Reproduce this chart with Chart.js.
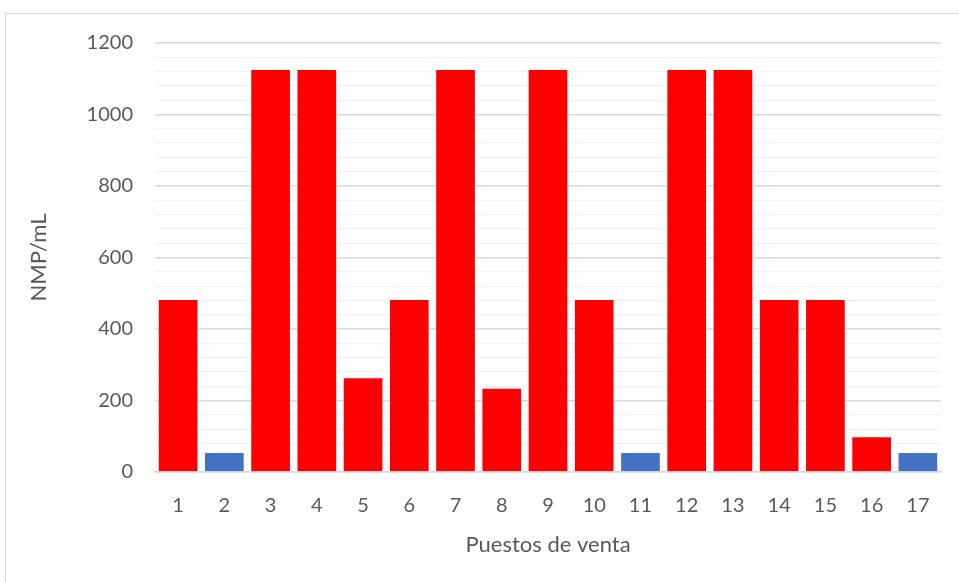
<!DOCTYPE html>
<html>
<head>
<meta charset="utf-8">
<script src="https://cdn.jsdelivr.net/npm/chart.js@4"></script>
<style>
  body { margin: 0; background: #fff; }
  #frame {
    position: absolute; left: 5px; top: 13px;
    width: 960px; height: 580px;
    border: 1px solid #d9d9d9;
  }
  #chart { display: block; }
</style>
</head>
<body>
<div id="frame"><canvas id="chart" width="953" height="568"></canvas></div>
<script>
  // puestos de venta and their NMP/mL counts
  const puestos = ['1','2','3','4','5','6','7','8','9','10','11','12','13','14','15','16','17'];
  const nmp = [484, 56, 1127, 1127, 265, 484, 1127, 236, 1127, 484, 56, 1127, 1127, 484, 484, 100, 56];
  const colores = ['#FF0000','#4472C4','#FF0000','#FF0000','#FF0000','#FF0000','#FF0000','#FF0000','#FF0000',
                   '#FF0000','#4472C4','#FF0000','#FF0000','#FF0000','#FF0000','#FF0000','#4472C4'];
  const yMax = 1200;
  const yMajor = 200;
  const yMinor = 40;

  const txt = '#595959';
  const font = 'Lato, Calibri, Carlito, sans-serif';

  const ctx = document.getElementById('chart').getContext('2d');
  const chart = new Chart(ctx, {
    type: 'bar',
    data: {
      labels: puestos,
      datasets: [{
        data: nmp,
        backgroundColor: colores,
        borderColor: 'rgba(255,255,255,0.55)',
        borderWidth: 1,
        barPercentage: 0.88,
        categoryPercentage: 1
      }]
    },
    options: {
      responsive: false,
      animation: false,
      layout: { padding: { top: 29, right: 18, bottom: 24, left: 0 } },
      plugins: { legend: { display: false }, tooltip: { enabled: false } },
      scales: {
        x: {
          grid: { display: false, drawTicks: false },
          border: { color: '#d9d9d9', width: 1.5 },
          ticks: { color: txt, font: { family: font, size: 20 }, padding: 22 },
          title: { display: true, text: 'Puestos de venta', color: txt,
                   font: { family: font, size: 22 }, padding: { top: 0, bottom: 0 } },
          afterFit: s => { s.height = 86; }
        },
        y: {
          min: 0, max: yMax,
          grid: {
            drawTicks: false,
            color: c => c.tick.value % yMajor === 0 ? '#d9d9d9' : '#f2f2f2',
            lineWidth: c => c.tick.value % yMajor === 0 ? 1.5 : 1.2
          },
          border: { display: false },
          ticks: {
            stepSize: yMinor,
            autoSkip: false,
            color: txt, font: { family: font, size: 20 }, padding: 22,
            callback: v => v % yMajor === 0 ? v : ''
          },
          title: { display: true, text: 'NMP/mL', color: txt,
                   font: { family: font, size: 22 }, padding: { top: 20, bottom: 0 } },
          afterFit: s => { s.width = 149; s.paddingTop = 0; s.paddingBottom = 0; }
        }
      }
    }
  });
</script>
</body>
</html>
